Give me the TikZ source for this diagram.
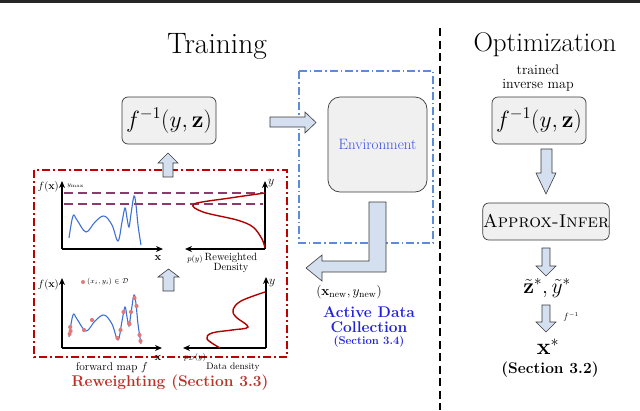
\RequirePackage{fix-cm}
\documentclass[tikz,border=0pt]{standalone}
\usepackage{amsmath}
\usetikzlibrary{arrows.meta}
\definecolor{arrowfill}{HTML}{D4DFF0}
\definecolor{arrowdraw}{HTML}{3A3A3A}
\definecolor{boxfill}{HTML}{F0F0F0}
\definecolor{envtext}{HTML}{3650E0}
\definecolor{actblue}{HTML}{2222DD}
\definecolor{redtext}{HTML}{C0302A}
\definecolor{redbox}{HTML}{C00000}
\definecolor{bluebox}{HTML}{5B8BD9}
\definecolor{purp}{HTML}{8B3A6B}
\definecolor{curveblue}{HTML}{3D6FD6}
\definecolor{densred}{HTML}{B00000}
\definecolor{dotred}{HTML}{E07A7A}
\newcommand\myfs[2]{\fontsize{#1}{#2}\selectfont}
\begin{document}
\begin{tikzpicture}[x=1pt,y=-1pt,
  mapbox/.style={draw=arrowdraw, fill=boxfill, rounded corners=6pt, line width=0.7pt, inner sep=0pt},
  blockarrow/.style={draw=arrowdraw, fill=arrowfill, line width=0.6pt, line join=miter},
  axis/.style={line width=1.2pt, -{Stealth[length=7pt,width=6pt]}},
  curve/.style={curveblue, line width=1.1pt},
  dens/.style={densred, line width=1.4pt},
  maxline/.style={purp, line width=1.6pt, dash pattern=on 9pt off 5pt},
  dotpt/.style={fill=dotred, draw=none},
  tight/.style={inner sep=1pt}]
\useasboundingbox (0,0) rectangle (640,410);
% top rule and divider
\fill[black!85] (0,0) rectangle (640,2.6);
\coordinate (divtop) at (440,28);
\coordinate (divbot) at (440,410);
\draw[line width=2.4pt, dash pattern=on 8pt off 4.5pt] (divtop) -- (divbot);

% titles
\node[font=\myfs{29.5}{32}] (train) at (217,46) {Training};
\node[font=\myfs{27}{30}] (optim) at (545,45) {Optimization};

% training map box
\node[mapbox, minimum width=94pt, minimum height=47pt, font=\myfs{23.5}{26}] (finv) at (169,120.5) {$f^{-1}(y,\mathbf{z})$};

% environment region
\draw[bluebox, line width=1.2pt, dash pattern=on 8pt off 3pt on 1.5pt off 3pt] (299,71) rectangle (433,243);
\node[draw=arrowdraw, fill=boxfill, rounded corners=12pt, line width=0.7pt, minimum width=99pt, minimum height=95pt, text=envtext, font=\myfs{15}{16}] (env) at (377.5,144.5) {Environment};

% arrow finv -> env
\draw[blockarrow] (270,117) -- (305,117) -- (305,112) -- (316,122.5) -- (305,133) -- (305,127) -- (270,127) -- cycle;

% L arrow env -> reweighting
\draw[blockarrow] (369,202) -- (386,202) -- (386,272) -- (322,272) -- (322,281) -- (306,268) -- (322,255) -- (322,261) -- (369,261) -- cycle;

\node[tight, font=\myfs{13.5}{15}] (newpt) at (349,292) {$(\mathbf{x}_{\mathrm{new}}, y_{\mathrm{new}})$};
\node[tight, font=\bfseries\myfs{15.5}{15}, text=actblue, align=center] (adc) at (369,319.5) {Active Data\\Collection};
\node[tight, font=\bfseries\myfs{11.3}{13}, text=actblue] (sec34) at (369,342) {(Section 3.4)};

% reweighting region
\draw[redbox, line width=1.4pt, dash pattern=on 8pt off 3pt on 2pt off 3pt] (34,170) rectangle (287,357);
\node[font=\bfseries\myfs{15.5}{17}, text=redtext] (rew) at (170,383) {Reweighting (Section 3.3)};

% up arrow reweighting -> finv
\draw[blockarrow] (163,177) -- (163,163) -- (158,163) -- (168,153) -- (178,163) -- (173,163) -- (173,177) -- cycle;
% up arrow between plots
\draw[blockarrow] (163,291) -- (163,277) -- (158,277) -- (168.5,269) -- (179,277) -- (174,277) -- (174,291) -- cycle;

% ---------- top-left plot ----------
\coordinate (o1) at (62,249);
\draw[maxline] (64,193) -- (263,193);
\draw[maxline] (64,204) -- (263,204);
\draw[axis] (o1) -- (62,181);
\draw[axis] (o1) -- (163,249);
\node[tight, font=\myfs{10.5}{12}, anchor=east] (fx1) at (60,187) {$f(\mathbf{x})$};
\node[tight, font=\myfs{6}{7}, anchor=west] (ymax) at (66,186) {$y_{\max}$};
\node[font=\myfs{11}{12}] (x1) at (158,258) {$\mathbf{x}$};
\draw[curve] plot[smooth, tension=0.6] coordinates {(69,238) (73,216) (77,220) (86,232) (95,222) (104,216) (112,225) (118,241) (122,222) (125,208) (127,218) (129,227) (131,214) (134,196) (136,205) (138,225) (141,245)};

% ---------- top-right plot ----------
\coordinate (o2) at (265,249);
\draw[axis] (o2) -- (265,181);
\draw[axis] (o2) -- (185,249);
\node[tight, font=\myfs{12}{12}, anchor=west] (y1) at (267,183) {$y$};
\draw[dens] plot[smooth, tension=0.55] coordinates {(265,193) (230,198) (194,204) (203,212) (237,220) (253,227) (262,239) (265,248)};
\node[tight, font=\myfs{8}{9}] (py) at (195,259) {$p(y)$};
\node[tight, font=\myfs{10.5}{9.5}, align=center] (rwd) at (231,263) {Reweighted\\Density};

% ---------- bottom-left plot ----------
\coordinate (o3) at (62,348);
\draw[axis] (o3) -- (62,278);
\draw[axis] (o3) -- (162,348);
\node[tight, font=\myfs{10.5}{12}, anchor=east] (fx2) at (60,285) {$f(\mathbf{x})$};
\node[font=\myfs{11}{12}] (x2) at (158,358) {$\mathbf{x}$};
\begin{scope}[shift={(0,99)}]
\draw[curve] plot[smooth, tension=0.6] coordinates {(69,238) (73,216) (77,220) (86,232) (95,222) (104,216) (112,225) (118,241) (122,222) (125,208) (127,218) (129,227) (131,214) (134,196) (136,205) (138,225) (141,245)};
\foreach \px/\py in {70.2/228, 70.6/232, 69.6/235, 84/231, 92/221, 117.5/239, 120.5/231, 123.5/213, 129.5/225, 129/224, 131/213, 134.5/199, 136.5/207, 139.5/236, 140.5/242}
  \fill[dotpt] (\px,\py) circle (2.1pt);
\end{scope}
\fill[dotpt] (83,282) circle (2pt);
\node[tight, font=\myfs{7}{8}, anchor=west] (leg) at (86,282) {$(x_i,y_i)\in\mathcal{D}$};
\node[tight, font=\myfs{11.3}{12}] (fwd) at (112,368) {forward map $f$};

% ---------- bottom-right plot ----------
\coordinate (o4) at (266,348);
\draw[axis] (o4) -- (266,277);
\draw[axis] (o4) -- (183,348);
\node[tight, font=\myfs{12}{12}, anchor=west] (y2) at (268,283) {$y$};
\draw[dens] plot[smooth, tension=0.6] coordinates {(220,348) (207,339) (212,333) (232,330) (248,327) (236,317) (233,310) (241,301) (265,292)};
\node[tight, font=\myfs{8}{9}] (pd) at (195,357) {$p_{\mathcal{D}}(y)$};
\node[tight, font=\myfs{9.5}{11}] (dd) at (233,367) {Data density};

% ---------- optimization column ----------
\node[tight, font=\myfs{14}{14}, align=center] (trained) at (538,78) {trained\\inverse map};
\node[mapbox, minimum width=94pt, minimum height=47pt, font=\myfs{23.5}{26}] (finv2) at (539,120.5) {$f^{-1}(y,\mathbf{z})$};
\draw[blockarrow] (541,149) -- (552,149) -- (552,173) -- (556,173) -- (546,194) -- (536,173) -- (541,173) -- cycle;
\node[mapbox, minimum width=126pt, minimum height=37pt, font=\myfs{18.5}{22}] (approx) at (546,221.5) {\textsc{Approx-Infer}};
\draw[blockarrow] (542,248) -- (550,248) -- (550,266) -- (556,266) -- (546,276) -- (536,266) -- (542,266) -- cycle;
\node[inner sep=0pt, font=\myfs{21.5}{22}] (zy) at (547,288) {$\tilde{\mathbf{z}}^{*}, \tilde{y}^{*}$};
\draw[blockarrow] (542,305) -- (550,305) -- (550,322) -- (556,322) -- (546,332) -- (536,322) -- (542,322) -- cycle;
\node[tight, font=\myfs{9}{9}] (finvlab) at (571,317) {$f^{-1}$};
\node[tight, font=\myfs{23}{24}] (xs) at (548,347) {$\mathbf{x}^{*}$};
\node[tight, font=\bfseries\myfs{15.5}{16}] (sec32) at (550,370) {(Section 3.2)};
\end{tikzpicture}
\end{document}
